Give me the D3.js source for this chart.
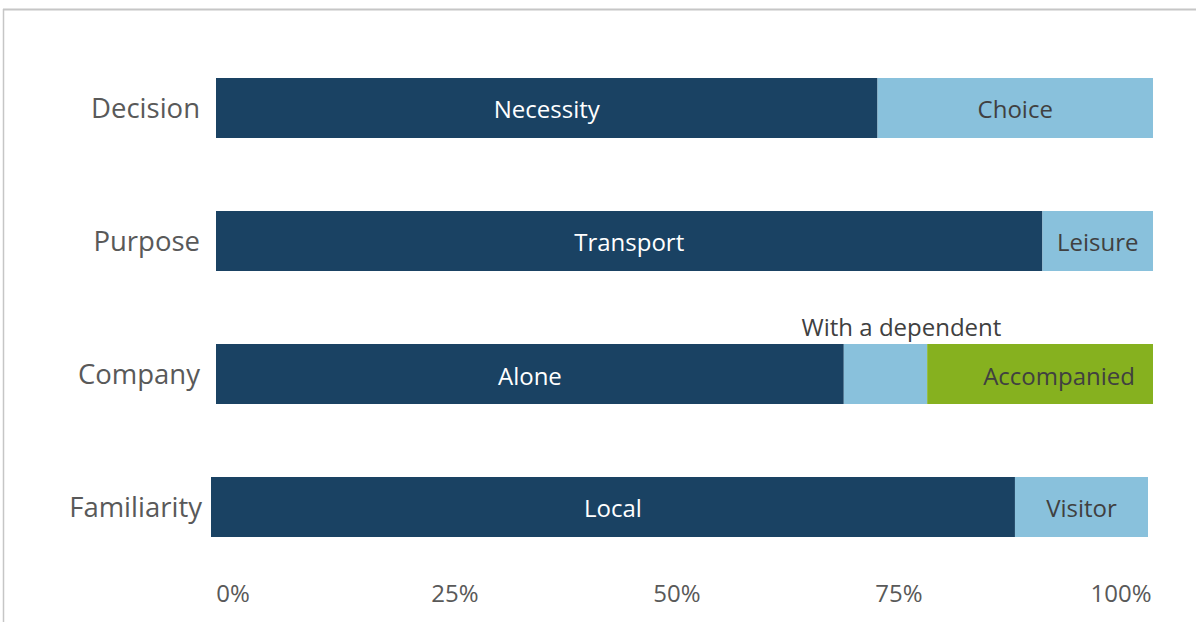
<!DOCTYPE html>
<html lang="en">
<head>
    <meta charset="utf-8">
    <script src="https://d3js.org/d3.v7.min.js"></script>
    <style>
        body { margin: 0; background: #fff; }
        text { font-family: "Open Sans", sans-serif; }
        .cat { fill: #595959; font-size: 27.5px; }
        .tick-label { fill: #595959; font-size: 24px; }
        .seg-label { font-size: 24px; }
    </style>
</head>
<body>
<script>
    // categories and segment values (percent of respondents)
    let categories = ['Decision', 'Purpose', 'Company', 'Familiarity'];
    let decision = [{label: 'Necessity', value: 70.6, kind: 'main'}, {label: 'Choice', value: 29.4, kind: 'alt'}];
    let purpose = [{label: 'Transport', value: 88.2, kind: 'main'}, {label: 'Leisure', value: 11.8, kind: 'alt'}];
    let company = [{label: 'Alone', value: 67.0, kind: 'main'}, {label: 'With a dependent', value: 8.9, kind: 'alt'}, {label: 'Accompanied', value: 24.1, kind: 'third'}];
    let familiarity = [{label: 'Local', value: 85.8, kind: 'main'}, {label: 'Visitor', value: 14.2, kind: 'alt'}];
    let tickValues = [0, 25, 50, 75, 100];

    let rows = [decision, purpose, company, familiarity];

    let colors = {main: '#1a4263', alt: '#89c1dc', third: '#86b11f'};
    let textColors = {main: '#ffffff', alt: '#404040', third: '#404040'};

    let svg = d3.select('body').append('svg')
        .attr('width', 1196).attr('height', 622);

    // frame lines
    svg.append('line').attr('x1', 3).attr('x2', 1196).attr('y1', 9.5).attr('y2', 9.5)
        .attr('stroke', '#c6c6c6').attr('stroke-width', 2);
    svg.append('line').attr('x1', 3.5).attr('x2', 3.5).attr('y1', 9).attr('y2', 622)
        .attr('stroke', '#c6c6c6').attr('stroke-width', 1.5);

    let x = d3.scaleLinear().domain([0, 100]).range([216, 1153]);
    let xTicks = d3.scaleLinear().domain([0, 100]).range([233, 1121]);
    let y = d3.scalePoint().domain(categories).range([108, 507]);
    let barH = 60;
    let rowShift = {Familiarity: -5};

    categories.forEach(function (cat, i) {
        let segs = [];
        let acc = 0;
        rows[i].forEach(function (s) {
            segs.push({label: s.label, kind: s.kind, x0: acc, x1: acc + s.value});
            acc += s.value;
        });
        let g = svg.append('g').attr('transform', 'translate(' + (rowShift[cat] || 0) + ',0)');

        g.selectAll('rect').data(segs).enter().append('rect')
            .attr('x', function (d) { return x(d.x0); })
            .attr('width', function (d) { return x(d.x1) - x(d.x0); })
            .attr('y', y(cat) - barH / 2)
            .attr('height', barH)
            .attr('fill', function (d) { return colors[d.kind]; });

        g.selectAll('text.seg-label').data(segs).enter().append('text')
            .attr('class', 'seg-label')
            .attr('text-anchor', 'middle')
            .attr('x', function (d) {
                let cx = (x(d.x0) + x(d.x1)) / 2;
                if (d.label === 'Accompanied') cx += 19;
                if (d.label === 'With a dependent') cx += 16;
                return cx;
            })
            .attr('y', function (d) {
                if (d.label === 'With a dependent') return y(cat) - barH / 2 - 8;
                return y(cat) + (cat === 'Company' ? 2 : 1);
            })
            .attr('dy', function (d) { return d.label === 'With a dependent' ? 0 : '0.36em'; })
            .attr('fill', function (d) { return textColors[d.kind]; })
            .text(function (d) { return d.label; });

        svg.append('text').attr('class', 'cat')
            .attr('x', 200 + (rowShift[cat] ? 2 : 0))
            .attr('y', y(cat))
            .attr('dy', '0.35em')
            .attr('text-anchor', 'end')
            .text(cat);
    });

    svg.selectAll('text.tick-label').data(tickValues).enter().append('text')
        .attr('class', 'tick-label')
        .attr('x', function (d) { return xTicks(d); })
        .attr('y', 594)
        .attr('dy', '0.35em')
        .attr('text-anchor', 'middle')
        .text(function (d) { return d + '%'; });
</script>
</body>
</html>
